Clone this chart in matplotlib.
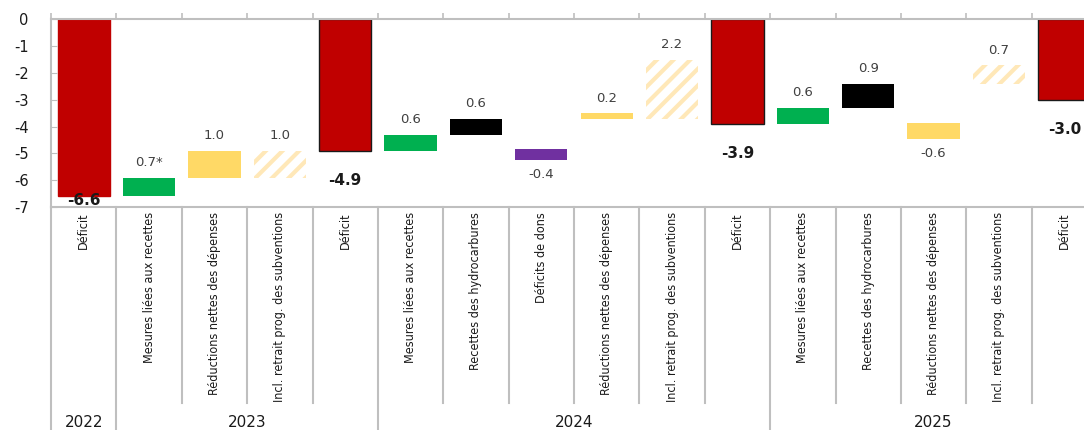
import matplotlib
matplotlib.use("Agg")
import matplotlib.pyplot as plt
import matplotlib.transforms as mtransforms

plt.rcParams['axes.unicode_minus'] = False
plt.rcParams['hatch.linewidth'] = 3.0
plt.rcParams['font.family'] = ['DejaVu Sans']

# catégories et valeurs du graphique en cascade
categories = ["Déficit",
              "Mesures liées aux recettes", "Réductions nettes des dépenses",
              "Incl. retrait prog. des subventions", "Déficit",
              "Mesures liées aux recettes", "Recettes des hydrocarbures",
              "Déficits de dons", "Réductions nettes des dépenses",
              "Incl. retrait prog. des subventions", "Déficit",
              "Mesures liées aux recettes", "Recettes des hydrocarbures",
              "Réductions nettes des dépenses",
              "Incl. retrait prog. des subventions", "Déficit"]
kinds = ["deficit", "recettes", "depenses", "subv", "deficit",
         "recettes", "hydro", "dons", "depenses", "subv", "deficit",
         "recettes", "hydro", "depenses", "subv", "deficit"]
values = [-6.6, 0.7, 1.0, 1.0, -4.9, 0.6, 0.6, -0.4, 0.2, 2.2, -3.9,
          0.6, 0.9, -0.6, 0.7, -3.0]
bases = [0, -6.6, -5.9, -5.9, 0, -4.9, -4.3, -4.85, -3.7, -3.7, 0,
         -3.9, -3.3, -3.85, -2.4, 0]
value_labels = ["-6.6", "0.7*", "1.0", "1.0", "-4.9", "0.6", "0.6", "-0.4",
                "0.2", "2.2", "-3.9", "0.6", "0.9", "-0.6", "0.7", "-3.0"]
years = ["2022", "2023", "2024", "2025"]
year_sizes = [1, 4, 6, 5]

colors = {"deficit": "#C00000", "recettes": "#00B050", "depenses": "#FFD966",
          "subv": "white", "hydro": "#000000", "dons": "#7030A0"}
grid_color = "#BFBFBF"
text_color = "#404040"

fig = plt.figure(figsize=(10.84, 4.30), dpi=100)
W, H = 1084, 430
x0, x1, ytop, ybot = 51, 1097, 19.3, 207
ax = fig.add_axes([x0 / W, 1 - ybot / H, (x1 - x0) / W, (ybot - ytop) / H])

n = len(categories)
pos = [i + 0.5 for i in range(n)]

for i in range(n):
    k = kinds[i]
    if k == "subv":
        ax.bar(pos[i], values[i], bottom=bases[i], width=0.8,
               color="white", edgecolor="#FFE8B8", linewidth=0, hatch="//")
    elif k == "deficit":
        ec = "#C00000" if i == 0 else "#1a1a1a"
        ax.bar(pos[i], values[i], bottom=bases[i], width=0.8,
               color=colors[k], edgecolor=ec, linewidth=1.0)
    else:
        ax.bar(pos[i], values[i], bottom=bases[i], width=0.8,
               color=colors[k], linewidth=0)

# étiquettes de valeur
for i in range(n):
    top = bases[i] + values[i]
    if kinds[i] == "deficit":
        y = max(top - 1.1, -6.75)
        ax.text(pos[i], y, value_labels[i], ha="center", va="center",
                fontsize=11, fontweight="bold", color="#1a1a1a", clip_on=False)
    elif values[i] >= 0:
        ax.annotate(value_labels[i], (pos[i], top), xytext=(0, 6),
                    textcoords="offset points", ha="center", va="bottom",
                    fontsize=9.5, color=text_color)
    else:
        ax.annotate(value_labels[i], (pos[i], top), xytext=(0, -6),
                    textcoords="offset points", ha="center", va="top",
                    fontsize=9.5, color=text_color)

ax.set_xlim(0, n)
ax.set_ylim(-7, 0)
ax.set_yticks(range(-7, 1))
ax.set_yticklabels([str(v) for v in range(-7, 1)])
ax.tick_params(axis="y", direction="in", length=4, color=grid_color,
               pad=16, labelsize=10.5, labelcolor="#1a1a1a")
ax.xaxis.tick_top()
ax.set_xticks(range(n + 1))
ax.set_xticklabels([])
ax.tick_params(axis="x", direction="out", length=4, color=grid_color,
               width=1.2)
for side in ["top", "left", "bottom"]:
    ax.spines[side].set_color(grid_color)
    ax.spines[side].set_linewidth(1.5)
ax.spines["right"].set_visible(False)

# tableau des catégories sous l'axe
trans = mtransforms.blended_transform_factory(ax.transData, ax.transAxes)
axh = ybot - ytop
inner_end = -(403 - ybot) / axh
outer_end = -(430 - ybot) / axh
year_y = -(422 - ybot) / axh
label_y = -(212 - ybot) / axh

bounds = [0]
for s in year_sizes:
    bounds.append(bounds[-1] + s)

for b in range(n + 1):
    end = outer_end if b in bounds else inner_end
    ax.plot([b, b], [0, end], color=grid_color, lw=1.5, transform=trans,
            clip_on=False)

for i in range(n):
    ax.text(pos[i], label_y, categories[i], rotation=90, ha="center",
            va="top", fontsize=9, fontstretch="condensed", color="#1a1a1a",
            transform=trans, clip_on=False)

for j, yr in enumerate(years):
    mid = (bounds[j] + bounds[j + 1]) / 2
    ax.text(mid, year_y, yr, ha="center", va="center", fontsize=11,
            color="#1a1a1a", transform=trans, clip_on=False)

fig.savefig("out.png", dpi=100)
